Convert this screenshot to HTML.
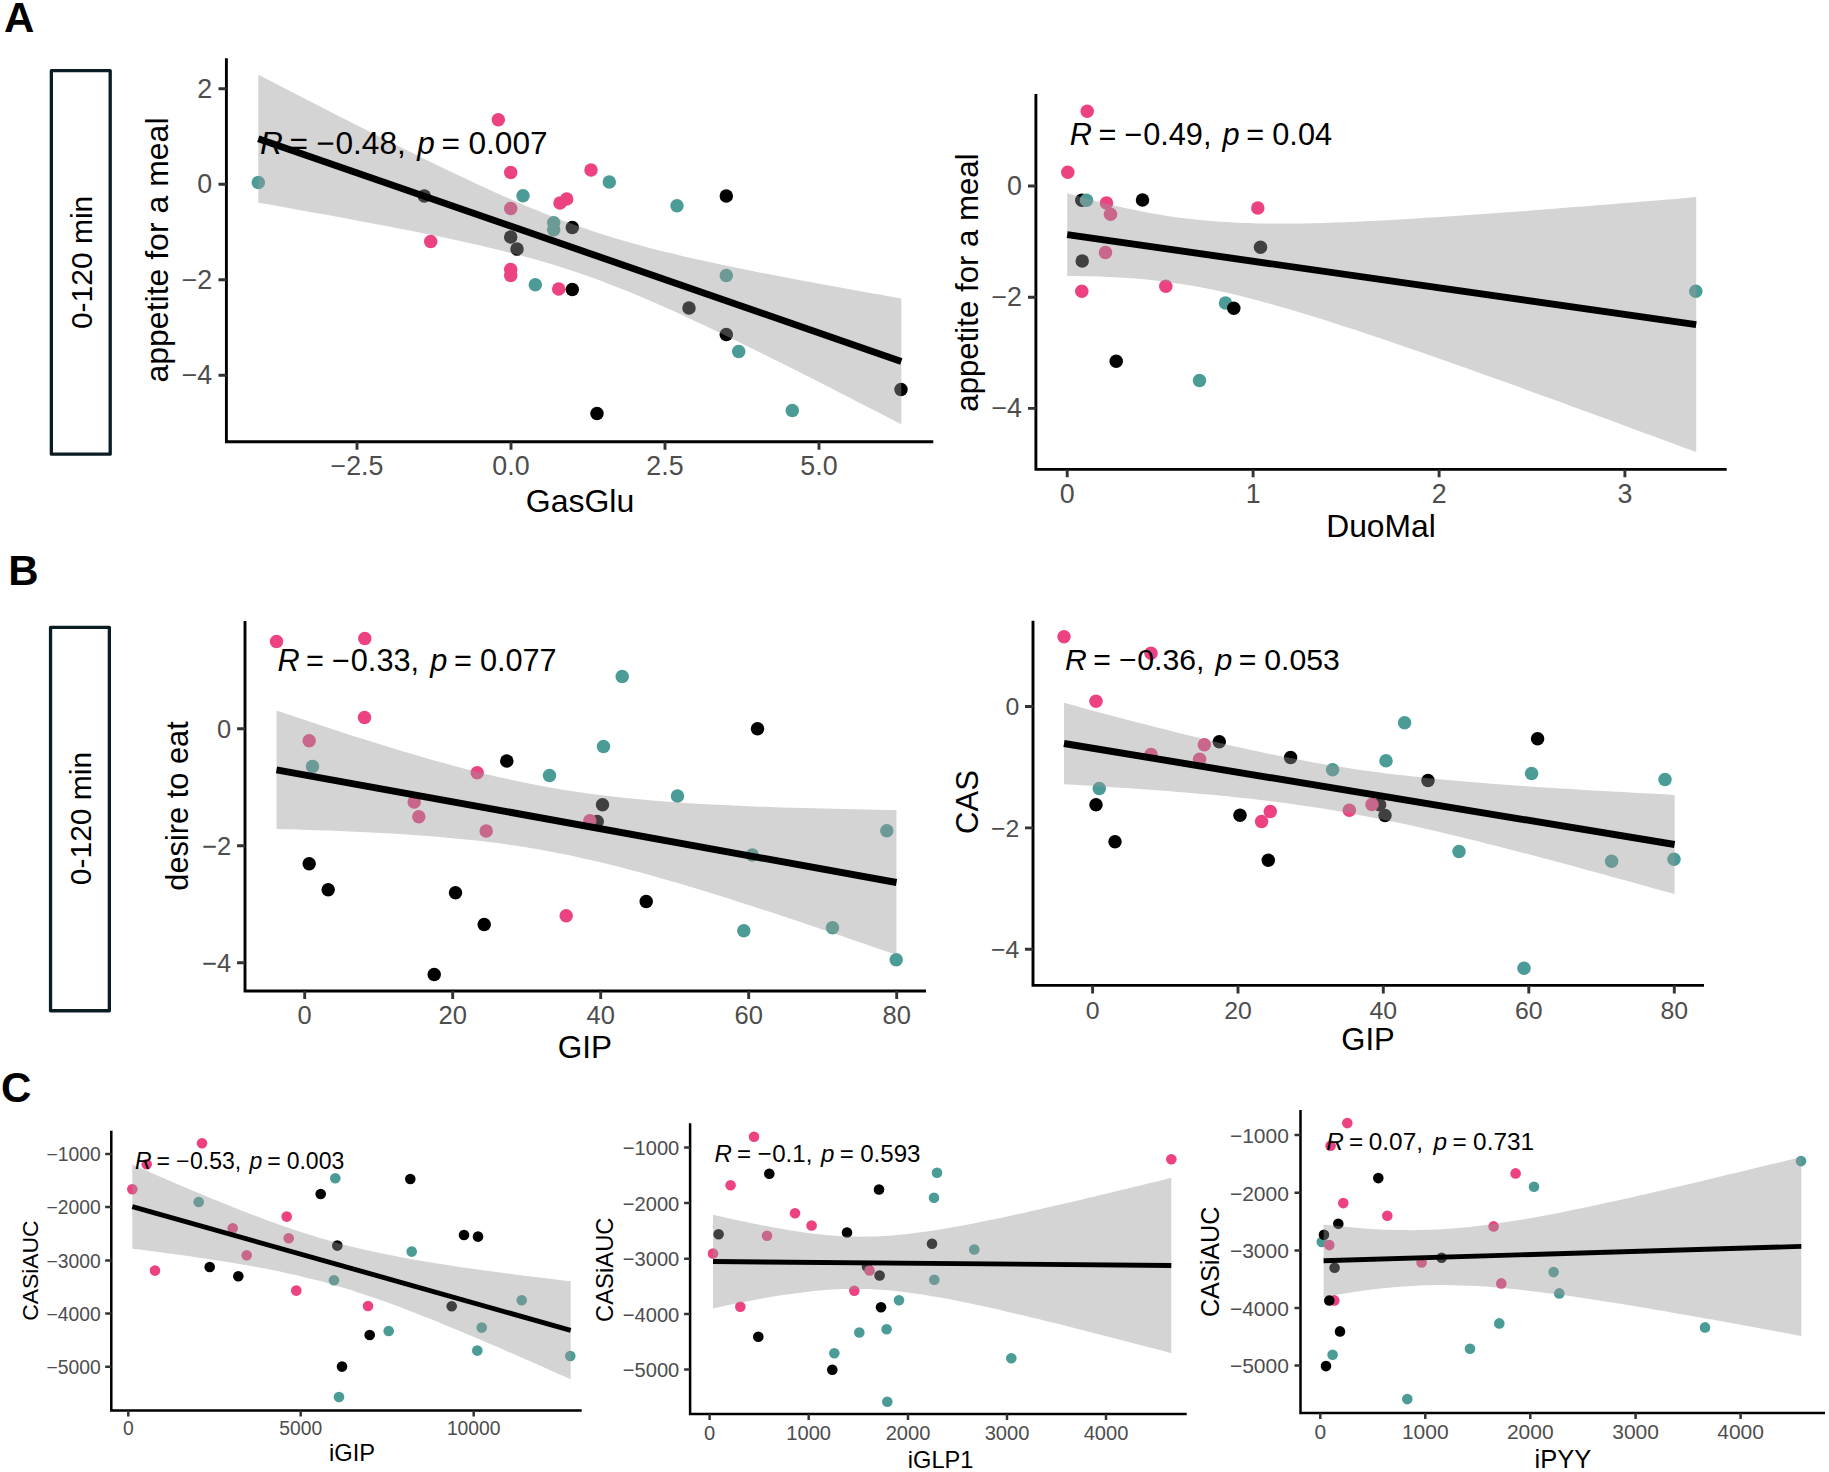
<!DOCTYPE html>
<html lang="en">
<head>
<meta charset="utf-8">
<title>Figure</title>
<style>
html,body{margin:0;padding:0;background:#fff;}
body{width:1829px;height:1472px;overflow:hidden;font-family:"Liberation Sans", sans-serif;}
svg{display:block;}
</style>
</head>
<body>
<svg width="1829" height="1472" viewBox="0 0 1829 1472" font-family='"Liberation Sans", sans-serif'>
<rect width="1829" height="1472" fill="#fff"/>
<g>
<circle cx="258.3" cy="182.4" r="6.75" fill="#4B9C96"/>
<circle cx="424.3" cy="196.1" r="6.75" fill="#000000"/>
<circle cx="498.3" cy="119.7" r="6.75" fill="#EC4282"/>
<circle cx="510.7" cy="172.4" r="6.75" fill="#EC4282"/>
<circle cx="591.0" cy="170.1" r="6.75" fill="#EC4282"/>
<circle cx="609.3" cy="182.1" r="6.75" fill="#4B9C96"/>
<circle cx="523.0" cy="195.7" r="6.75" fill="#4B9C96"/>
<circle cx="560.0" cy="203.1" r="6.75" fill="#EC4282"/>
<circle cx="566.7" cy="199.1" r="6.75" fill="#EC4282"/>
<circle cx="510.7" cy="208.4" r="6.75" fill="#EC4282"/>
<circle cx="553.7" cy="222.7" r="6.75" fill="#4B9C96"/>
<circle cx="553.7" cy="229.7" r="6.75" fill="#4B9C96"/>
<circle cx="572.3" cy="227.4" r="6.75" fill="#000000"/>
<circle cx="510.7" cy="237.1" r="6.75" fill="#000000"/>
<circle cx="517.0" cy="249.1" r="6.75" fill="#000000"/>
<circle cx="430.7" cy="241.4" r="6.75" fill="#EC4282"/>
<circle cx="510.7" cy="269.4" r="6.75" fill="#EC4282"/>
<circle cx="510.7" cy="275.4" r="6.75" fill="#EC4282"/>
<circle cx="535.3" cy="284.7" r="6.75" fill="#4B9C96"/>
<circle cx="558.7" cy="289.1" r="6.75" fill="#EC4282"/>
<circle cx="572.3" cy="289.4" r="6.75" fill="#000000"/>
<circle cx="677.0" cy="205.7" r="6.75" fill="#4B9C96"/>
<circle cx="726.3" cy="196.1" r="6.75" fill="#000000"/>
<circle cx="726.3" cy="275.4" r="6.75" fill="#4B9C96"/>
<circle cx="689.0" cy="308.1" r="6.75" fill="#000000"/>
<circle cx="726.3" cy="334.4" r="6.75" fill="#000000"/>
<circle cx="738.7" cy="351.4" r="6.75" fill="#4B9C96"/>
<circle cx="597.0" cy="413.4" r="6.75" fill="#000000"/>
<circle cx="792.3" cy="410.4" r="6.75" fill="#4B9C96"/>
<circle cx="901.0" cy="389.4" r="6.75" fill="#000000"/>
</g>
<path d="M258.3,74.7 L269.2,80.3 L280.1,86.0 L291.0,91.6 L301.9,97.2 L312.8,102.8 L323.7,108.3 L334.6,113.9 L345.5,119.5 L356.4,125.0 L367.3,130.5 L378.2,136.0 L389.1,141.4 L400.0,146.9 L410.9,152.3 L421.8,157.7 L432.7,163.0 L443.6,168.3 L454.5,173.5 L465.4,178.6 L476.3,183.7 L487.2,188.8 L498.1,193.7 L509.0,198.5 L519.9,203.3 L530.8,207.9 L541.7,212.3 L552.6,216.7 L563.5,220.8 L574.4,224.8 L585.2,228.6 L596.1,232.3 L607.0,235.8 L617.9,239.1 L628.8,242.3 L639.7,245.3 L650.6,248.2 L661.5,251.0 L672.4,253.6 L683.3,256.2 L694.2,258.7 L705.1,261.1 L716.0,263.5 L726.9,265.8 L737.8,268.0 L748.7,270.2 L759.6,272.4 L770.5,274.5 L781.4,276.6 L792.3,278.7 L803.2,280.8 L814.1,282.8 L825.0,284.8 L835.9,286.8 L846.8,288.8 L857.7,290.7 L868.6,292.7 L879.5,294.6 L890.4,296.6 L901.3,298.5 L901.3,424.3 L890.4,418.7 L879.5,413.1 L868.6,407.5 L857.7,401.9 L846.8,396.3 L835.9,390.7 L825.0,385.1 L814.1,379.6 L803.2,374.1 L792.3,368.6 L781.4,363.1 L770.5,357.7 L759.6,352.3 L748.7,346.9 L737.8,341.5 L726.9,336.2 L716.0,331.0 L705.1,325.8 L694.2,320.7 L683.3,315.6 L672.4,310.6 L661.5,305.8 L650.6,301.0 L639.7,296.3 L628.8,291.8 L617.9,287.4 L607.0,283.2 L596.1,279.1 L585.2,275.2 L574.4,271.5 L563.5,268.0 L552.6,264.6 L541.7,261.3 L530.8,258.3 L519.9,255.3 L509.0,252.5 L498.1,249.8 L487.2,247.2 L476.3,244.6 L465.4,242.2 L454.5,239.8 L443.6,237.5 L432.7,235.2 L421.8,233.0 L410.9,230.8 L400.0,228.7 L389.1,226.5 L378.2,224.5 L367.3,222.4 L356.4,220.4 L345.5,218.3 L334.6,216.3 L323.7,214.3 L312.8,212.4 L301.9,210.4 L291.0,208.5 L280.1,206.5 L269.2,204.6 L258.3,202.7Z" fill="#999999" fill-opacity="0.42"/>
<line x1="258.3" y1="138.7" x2="901.3" y2="361.4" stroke="#000" stroke-width="6.9"/>
<path d="M226.4,58.3 V441.8 H933.3" fill="none" stroke="#000" stroke-width="2.9" stroke-linejoin="miter"/>
<path d="M218.5,88.8H226.4M218.5,184.3H226.4M218.5,279.8H226.4M218.5,375.3H226.4M357.0,441.8V449.8M511.0,441.8V449.8M665.0,441.8V449.8M819.0,441.8V449.8" stroke="#333" stroke-width="2.9" fill="none"/>
<g font-size="26.8" fill="#4D4D4D">
<text x="212.2" y="97.5" text-anchor="end">2</text>
<text x="212.2" y="193.0" text-anchor="end">0</text>
<text x="212.2" y="288.5" text-anchor="end">−2</text>
<text x="212.2" y="384.0" text-anchor="end">−4</text>
<text x="357.0" y="475.0" text-anchor="middle">−2.5</text>
<text x="511.0" y="475.0" text-anchor="middle">0.0</text>
<text x="665.0" y="475.0" text-anchor="middle">2.5</text>
<text x="819.0" y="475.0" text-anchor="middle">5.0</text>
</g>
<text x="580.0" y="512.2" font-size="32" text-anchor="middle">GasGlu</text>
<text x="167.8" y="250.0" font-size="32" text-anchor="middle" transform="rotate(-90 167.8 250.0)">appetite for a meal</text>
<g font-size="31.6">
<text x="260.0" y="154.0" font-style="italic">R</text>
<text x="289.5" y="154.0">=</text>
<text x="316.2" y="154.0">−</text>
<text x="335.5" y="154.0">0.48,</text>
<text x="417.3" y="154.0" font-style="italic">p</text>
<text x="441.6" y="154.0">=</text>
<text x="468.5" y="154.0">0.007</text>
</g>
<g>
<circle cx="1087.2" cy="111.3" r="6.75" fill="#EC4282"/>
<circle cx="1067.8" cy="172.3" r="6.75" fill="#EC4282"/>
<circle cx="1081.8" cy="200.3" r="6.75" fill="#000000"/>
<circle cx="1086.5" cy="200.3" r="6.75" fill="#4B9C96"/>
<circle cx="1106.5" cy="203.0" r="6.75" fill="#EC4282"/>
<circle cx="1110.5" cy="214.3" r="6.75" fill="#EC4282"/>
<circle cx="1142.5" cy="200.0" r="6.75" fill="#000000"/>
<circle cx="1257.8" cy="208.0" r="6.75" fill="#EC4282"/>
<circle cx="1260.5" cy="247.3" r="6.75" fill="#000000"/>
<circle cx="1105.5" cy="252.6" r="6.75" fill="#EC4282"/>
<circle cx="1082.2" cy="261.0" r="6.75" fill="#000000"/>
<circle cx="1081.8" cy="291.3" r="6.75" fill="#EC4282"/>
<circle cx="1165.8" cy="286.3" r="6.75" fill="#EC4282"/>
<circle cx="1225.5" cy="303.0" r="6.75" fill="#4B9C96"/>
<circle cx="1233.8" cy="308.3" r="6.75" fill="#000000"/>
<circle cx="1116.2" cy="361.3" r="6.75" fill="#000000"/>
<circle cx="1199.5" cy="380.6" r="6.75" fill="#4B9C96"/>
<circle cx="1695.8" cy="291.3" r="6.75" fill="#4B9C96"/>
</g>
<path d="M1067.2,193.2 L1077.9,196.2 L1088.5,199.1 L1099.2,201.9 L1109.8,204.5 L1120.5,207.0 L1131.2,209.3 L1141.8,211.5 L1152.5,213.4 L1163.1,215.2 L1173.8,216.9 L1184.5,218.3 L1195.1,219.5 L1205.8,220.5 L1216.5,221.4 L1227.1,222.1 L1237.8,222.7 L1248.4,223.1 L1259.1,223.4 L1269.8,223.5 L1280.4,223.6 L1291.1,223.5 L1301.7,223.4 L1312.4,223.2 L1323.1,222.9 L1333.7,222.6 L1344.4,222.2 L1355.0,221.7 L1365.7,221.2 L1376.4,220.7 L1387.0,220.2 L1397.7,219.6 L1408.4,219.0 L1419.0,218.3 L1429.7,217.6 L1440.3,217.0 L1451.0,216.2 L1461.7,215.5 L1472.3,214.8 L1483.0,214.0 L1493.6,213.3 L1504.3,212.5 L1515.0,211.7 L1525.6,210.9 L1536.3,210.1 L1546.9,209.3 L1557.6,208.4 L1568.3,207.6 L1578.9,206.7 L1589.6,205.9 L1600.3,205.0 L1610.9,204.2 L1621.6,203.3 L1632.2,202.4 L1642.9,201.6 L1653.6,200.7 L1664.2,199.8 L1674.9,198.9 L1685.5,198.0 L1696.2,197.1 L1696.2,452.1 L1685.5,448.2 L1674.9,444.2 L1664.2,440.3 L1653.6,436.3 L1642.9,432.4 L1632.2,428.5 L1621.6,424.5 L1610.9,420.6 L1600.3,416.7 L1589.6,412.8 L1578.9,408.9 L1568.3,405.0 L1557.6,401.1 L1546.9,397.2 L1536.3,393.4 L1525.6,389.5 L1515.0,385.6 L1504.3,381.8 L1493.6,378.0 L1483.0,374.2 L1472.3,370.3 L1461.7,366.6 L1451.0,362.8 L1440.3,359.0 L1429.7,355.3 L1419.0,351.6 L1408.4,347.9 L1397.7,344.2 L1387.0,340.6 L1376.4,337.0 L1365.7,333.4 L1355.0,329.8 L1344.4,326.4 L1333.7,322.9 L1323.1,319.5 L1312.4,316.2 L1301.7,312.9 L1291.1,309.8 L1280.4,306.7 L1269.8,303.7 L1259.1,300.8 L1248.4,298.0 L1237.8,295.3 L1227.1,292.8 L1216.5,290.5 L1205.8,288.3 L1195.1,286.3 L1184.5,284.5 L1173.8,282.9 L1163.1,281.4 L1152.5,280.2 L1141.8,279.1 L1131.2,278.2 L1120.5,277.5 L1109.8,276.9 L1099.2,276.5 L1088.5,276.2 L1077.9,276.0 L1067.2,276.0Z" fill="#999999" fill-opacity="0.42"/>
<line x1="1067.2" y1="234.6" x2="1696.2" y2="324.6" stroke="#000" stroke-width="6.9"/>
<path d="M1035.9,94.0 V469.4 H1726.7" fill="none" stroke="#000" stroke-width="2.9" stroke-linejoin="miter"/>
<path d="M1028.0,186.0H1035.9M1028.0,297.2H1035.9M1028.0,408.4H1035.9M1067.2,469.4V477.3M1253.1,469.4V477.3M1439.1,469.4V477.3M1624.9,469.4V477.3" stroke="#333" stroke-width="2.9" fill="none"/>
<g font-size="26.8" fill="#4D4D4D">
<text x="1022.0" y="194.8" text-anchor="end">0</text>
<text x="1022.0" y="306.0" text-anchor="end">−2</text>
<text x="1022.0" y="417.2" text-anchor="end">−4</text>
<text x="1067.2" y="502.7" text-anchor="middle">0</text>
<text x="1253.1" y="502.7" text-anchor="middle">1</text>
<text x="1439.1" y="502.7" text-anchor="middle">2</text>
<text x="1624.9" y="502.7" text-anchor="middle">3</text>
</g>
<text x="1381.0" y="537.0" font-size="31.8" text-anchor="middle">DuoMal</text>
<text x="978.3" y="282.5" font-size="31.2" text-anchor="middle" transform="rotate(-90 978.3 282.5)">appetite for a meal</text>
<g font-size="30.7">
<text x="1069.8" y="145.0" font-style="italic">R</text>
<text x="1098.5" y="145.0">=</text>
<text x="1124.4" y="145.0">−</text>
<text x="1143.2" y="145.0">0.49,</text>
<text x="1222.6" y="145.0" font-style="italic">p</text>
<text x="1246.3" y="145.0">=</text>
<text x="1272.3" y="145.0">0.04</text>
</g>
<g>
<circle cx="276.5" cy="641.5" r="6.75" fill="#EC4282"/>
<circle cx="364.8" cy="638.5" r="6.75" fill="#EC4282"/>
<circle cx="364.5" cy="717.5" r="6.75" fill="#EC4282"/>
<circle cx="309.2" cy="740.8" r="6.75" fill="#EC4282"/>
<circle cx="312.5" cy="766.5" r="6.75" fill="#4B9C96"/>
<circle cx="622.2" cy="676.5" r="6.75" fill="#4B9C96"/>
<circle cx="603.5" cy="746.5" r="6.75" fill="#4B9C96"/>
<circle cx="506.8" cy="761.1" r="6.75" fill="#000000"/>
<circle cx="477.2" cy="772.8" r="6.75" fill="#EC4282"/>
<circle cx="549.5" cy="775.5" r="6.75" fill="#4B9C96"/>
<circle cx="677.5" cy="796.1" r="6.75" fill="#4B9C96"/>
<circle cx="602.5" cy="804.8" r="6.75" fill="#000000"/>
<circle cx="414.2" cy="802.1" r="6.75" fill="#EC4282"/>
<circle cx="418.8" cy="816.8" r="6.75" fill="#EC4282"/>
<circle cx="486.2" cy="831.1" r="6.75" fill="#EC4282"/>
<circle cx="597.2" cy="821.5" r="6.75" fill="#000000"/>
<circle cx="589.8" cy="820.8" r="6.75" fill="#EC4282"/>
<circle cx="309.2" cy="863.8" r="6.75" fill="#000000"/>
<circle cx="328.2" cy="889.8" r="6.75" fill="#000000"/>
<circle cx="455.5" cy="892.8" r="6.75" fill="#000000"/>
<circle cx="484.2" cy="924.5" r="6.75" fill="#000000"/>
<circle cx="566.2" cy="915.8" r="6.75" fill="#EC4282"/>
<circle cx="646.2" cy="901.5" r="6.75" fill="#000000"/>
<circle cx="434.2" cy="974.5" r="6.75" fill="#000000"/>
<circle cx="743.8" cy="930.8" r="6.75" fill="#4B9C96"/>
<circle cx="757.5" cy="728.8" r="6.75" fill="#000000"/>
<circle cx="752.2" cy="855.1" r="6.75" fill="#4B9C96"/>
<circle cx="886.8" cy="830.8" r="6.75" fill="#4B9C96"/>
<circle cx="832.5" cy="927.8" r="6.75" fill="#4B9C96"/>
<circle cx="896.2" cy="959.8" r="6.75" fill="#4B9C96"/>
</g>
<path d="M276.5,710.6 L287.0,714.1 L297.5,717.6 L308.0,721.1 L318.5,724.6 L329.0,728.1 L339.6,731.5 L350.1,734.9 L360.6,738.2 L371.1,741.5 L381.6,744.8 L392.1,748.0 L402.6,751.2 L413.1,754.3 L423.6,757.4 L434.1,760.4 L444.6,763.3 L455.1,766.2 L465.7,768.9 L476.2,771.6 L486.7,774.2 L497.2,776.7 L507.7,779.1 L518.2,781.3 L528.7,783.5 L539.2,785.5 L549.7,787.5 L560.2,789.3 L570.7,790.9 L581.2,792.5 L591.8,794.0 L602.3,795.3 L612.8,796.6 L623.3,797.7 L633.8,798.8 L644.3,799.8 L654.8,800.7 L665.3,801.5 L675.8,802.3 L686.3,803.0 L696.8,803.7 L707.3,804.3 L717.9,804.8 L728.4,805.3 L738.9,805.8 L749.4,806.3 L759.9,806.7 L770.4,807.1 L780.9,807.4 L791.4,807.7 L801.9,808.0 L812.4,808.3 L822.9,808.6 L833.4,808.8 L844.0,809.1 L854.5,809.3 L865.0,809.5 L875.5,809.7 L886.0,809.9 L896.5,810.0 L896.5,955.0 L886.0,951.3 L875.5,947.7 L865.0,944.0 L854.5,940.4 L844.0,936.8 L833.4,933.2 L822.9,929.7 L812.4,926.1 L801.9,922.6 L791.4,919.1 L780.9,915.6 L770.4,912.1 L759.9,908.7 L749.4,905.3 L738.9,901.9 L728.4,898.5 L717.9,895.2 L707.3,892.0 L696.8,888.7 L686.3,885.6 L675.8,882.5 L665.3,879.4 L654.8,876.4 L644.3,873.5 L633.8,870.7 L623.3,867.9 L612.8,865.3 L602.3,862.7 L591.8,860.2 L581.2,857.9 L570.7,855.6 L560.2,853.5 L549.7,851.5 L539.2,849.6 L528.7,847.8 L518.2,846.1 L507.7,844.6 L497.2,843.1 L486.7,841.8 L476.2,840.6 L465.7,839.4 L455.1,838.4 L444.6,837.4 L434.1,836.5 L423.6,835.7 L413.1,834.9 L402.6,834.2 L392.1,833.6 L381.6,833.0 L371.1,832.5 L360.6,832.0 L350.1,831.5 L339.6,831.0 L329.0,830.6 L318.5,830.3 L308.0,829.9 L297.5,829.6 L287.0,829.3 L276.5,829.0Z" fill="#999999" fill-opacity="0.42"/>
<line x1="276.5" y1="769.8" x2="896.5" y2="882.5" stroke="#000" stroke-width="6.9"/>
<path d="M245.0,621.0 V991.0 H926.0" fill="none" stroke="#000" stroke-width="2.9" stroke-linejoin="miter"/>
<path d="M237.1,728.8H245.0M237.1,845.8H245.0M237.1,962.8H245.0M304.7,991.0V999.0M452.7,991.0V999.0M600.7,991.0V999.0M748.7,991.0V999.0M896.7,991.0V999.0" stroke="#333" stroke-width="2.9" fill="none"/>
<g font-size="25.5" fill="#4D4D4D">
<text x="231.3" y="737.6" text-anchor="end">0</text>
<text x="231.3" y="854.6" text-anchor="end">−2</text>
<text x="231.3" y="971.6" text-anchor="end">−4</text>
<text x="304.7" y="1024.2" text-anchor="middle">0</text>
<text x="452.7" y="1024.2" text-anchor="middle">20</text>
<text x="600.7" y="1024.2" text-anchor="middle">40</text>
<text x="748.7" y="1024.2" text-anchor="middle">60</text>
<text x="896.7" y="1024.2" text-anchor="middle">80</text>
</g>
<text x="585.0" y="1058.0" font-size="31.5" text-anchor="middle">GIP</text>
<text x="188.0" y="806.0" font-size="30.8" text-anchor="middle" transform="rotate(-90 188.0 806.0)">desire to eat</text>
<g font-size="30.7">
<text x="277.4" y="671.0" font-style="italic">R</text>
<text x="306.1" y="671.0">=</text>
<text x="332.0" y="671.0">−</text>
<text x="350.8" y="671.0">0.33,</text>
<text x="430.2" y="671.0" font-style="italic">p</text>
<text x="453.9" y="671.0">=</text>
<text x="479.9" y="671.0">0.077</text>
</g>
<g>
<circle cx="1064.0" cy="636.8" r="6.75" fill="#EC4282"/>
<circle cx="1151.0" cy="653.2" r="6.75" fill="#EC4282"/>
<circle cx="1096.0" cy="701.2" r="6.75" fill="#EC4282"/>
<circle cx="1099.3" cy="788.5" r="6.75" fill="#4B9C96"/>
<circle cx="1096.0" cy="804.8" r="6.75" fill="#000000"/>
<circle cx="1115.0" cy="841.8" r="6.75" fill="#000000"/>
<circle cx="1151.0" cy="754.5" r="6.75" fill="#EC4282"/>
<circle cx="1204.3" cy="744.8" r="6.75" fill="#EC4282"/>
<circle cx="1199.6" cy="759.2" r="6.75" fill="#EC4282"/>
<circle cx="1219.3" cy="741.8" r="6.75" fill="#000000"/>
<circle cx="1290.6" cy="757.5" r="6.75" fill="#000000"/>
<circle cx="1332.6" cy="769.8" r="6.75" fill="#4B9C96"/>
<circle cx="1386.0" cy="760.8" r="6.75" fill="#4B9C96"/>
<circle cx="1404.6" cy="722.8" r="6.75" fill="#4B9C96"/>
<circle cx="1428.0" cy="780.5" r="6.75" fill="#000000"/>
<circle cx="1537.6" cy="738.8" r="6.75" fill="#000000"/>
<circle cx="1531.6" cy="773.5" r="6.75" fill="#4B9C96"/>
<circle cx="1240.0" cy="815.2" r="6.75" fill="#000000"/>
<circle cx="1270.3" cy="811.5" r="6.75" fill="#EC4282"/>
<circle cx="1261.6" cy="821.5" r="6.75" fill="#EC4282"/>
<circle cx="1268.3" cy="860.2" r="6.75" fill="#000000"/>
<circle cx="1349.3" cy="810.2" r="6.75" fill="#EC4282"/>
<circle cx="1379.6" cy="804.8" r="6.75" fill="#000000"/>
<circle cx="1372.0" cy="804.5" r="6.75" fill="#EC4282"/>
<circle cx="1385.0" cy="815.5" r="6.75" fill="#000000"/>
<circle cx="1459.0" cy="851.5" r="6.75" fill="#4B9C96"/>
<circle cx="1524.0" cy="968.2" r="6.75" fill="#4B9C96"/>
<circle cx="1665.0" cy="779.5" r="6.75" fill="#4B9C96"/>
<circle cx="1611.6" cy="861.2" r="6.75" fill="#4B9C96"/>
<circle cx="1674.0" cy="859.2" r="6.75" fill="#4B9C96"/>
</g>
<path d="M1064.0,702.8 L1074.3,705.6 L1084.7,708.4 L1095.0,711.2 L1105.4,714.0 L1115.7,716.7 L1126.1,719.4 L1136.4,722.2 L1146.8,724.8 L1157.1,727.5 L1167.5,730.1 L1177.8,732.7 L1188.2,735.3 L1198.5,737.8 L1208.9,740.3 L1219.2,742.8 L1229.6,745.2 L1239.9,747.5 L1250.3,749.8 L1260.6,752.0 L1271.0,754.2 L1281.3,756.3 L1291.7,758.3 L1302.0,760.3 L1312.4,762.2 L1322.7,764.0 L1333.1,765.7 L1343.4,767.3 L1353.8,768.9 L1364.1,770.4 L1374.5,771.8 L1384.8,773.2 L1395.2,774.4 L1405.5,775.6 L1415.9,776.8 L1426.2,777.9 L1436.6,778.9 L1446.9,779.9 L1457.3,780.8 L1467.6,781.8 L1478.0,782.6 L1488.3,783.4 L1498.7,784.2 L1509.0,785.0 L1519.4,785.8 L1529.7,786.5 L1540.1,787.2 L1550.4,787.8 L1560.8,788.5 L1571.1,789.1 L1581.5,789.8 L1591.8,790.4 L1602.2,791.0 L1612.5,791.6 L1622.9,792.1 L1633.2,792.7 L1643.6,793.2 L1653.9,793.8 L1664.3,794.3 L1674.6,794.9 L1674.6,894.1 L1664.3,891.2 L1653.9,888.4 L1643.6,885.5 L1633.2,882.6 L1622.9,879.7 L1612.5,876.9 L1602.2,874.1 L1591.8,871.2 L1581.5,868.4 L1571.1,865.6 L1560.8,862.8 L1550.4,860.1 L1540.1,857.3 L1529.7,854.6 L1519.4,851.9 L1509.0,849.2 L1498.7,846.6 L1488.3,843.9 L1478.0,841.3 L1467.6,838.8 L1457.3,836.3 L1446.9,833.8 L1436.6,831.3 L1426.2,829.0 L1415.9,826.6 L1405.5,824.3 L1395.2,822.1 L1384.8,820.0 L1374.5,817.9 L1364.1,815.9 L1353.8,814.0 L1343.4,812.1 L1333.1,810.3 L1322.7,808.6 L1312.4,807.0 L1302.0,805.4 L1291.7,804.0 L1281.3,802.6 L1271.0,801.3 L1260.6,800.0 L1250.3,798.8 L1239.9,797.7 L1229.6,796.6 L1219.2,795.6 L1208.9,794.6 L1198.5,793.7 L1188.2,792.8 L1177.8,791.9 L1167.5,791.1 L1157.1,790.3 L1146.8,789.6 L1136.4,788.8 L1126.1,788.1 L1115.7,787.4 L1105.4,786.7 L1095.0,786.1 L1084.7,785.5 L1074.3,784.8 L1064.0,784.2Z" fill="#999999" fill-opacity="0.42"/>
<line x1="1064.0" y1="743.5" x2="1674.6" y2="844.5" stroke="#000" stroke-width="6.9"/>
<path d="M1033.0,620.7 V985.4 H1704.0" fill="none" stroke="#000" stroke-width="2.9" stroke-linejoin="miter"/>
<path d="M1025.0,706.5H1033.0M1025.0,827.9H1033.0M1025.0,949.3H1033.0M1092.6,985.4V993.4M1238.0,985.4V993.4M1383.3,985.4V993.4M1528.8,985.4V993.4M1674.3,985.4V993.4" stroke="#333" stroke-width="2.9" fill="none"/>
<g font-size="24.8" fill="#4D4D4D">
<text x="1019.2" y="715.1" text-anchor="end">0</text>
<text x="1019.2" y="836.5" text-anchor="end">−2</text>
<text x="1019.2" y="957.9" text-anchor="end">−4</text>
<text x="1092.6" y="1018.6" text-anchor="middle">0</text>
<text x="1238.0" y="1018.6" text-anchor="middle">20</text>
<text x="1383.3" y="1018.6" text-anchor="middle">40</text>
<text x="1528.8" y="1018.6" text-anchor="middle">60</text>
<text x="1674.3" y="1018.6" text-anchor="middle">80</text>
</g>
<text x="1368.0" y="1050.0" font-size="31" text-anchor="middle">GIP</text>
<text x="977.6" y="802.0" font-size="31" text-anchor="middle" transform="rotate(-90 977.6 802.0)">CAS</text>
<g font-size="30.2">
<text x="1065.1" y="669.7" font-style="italic">R</text>
<text x="1093.3" y="669.7">=</text>
<text x="1118.9" y="669.7">−</text>
<text x="1137.3" y="669.7">0.36,</text>
<text x="1215.4" y="669.7" font-style="italic">p</text>
<text x="1238.7" y="669.7">=</text>
<text x="1264.3" y="669.7">0.053</text>
</g>
<g>
<circle cx="202.0" cy="1143.3" r="5.3" fill="#EC4282"/>
<circle cx="146.7" cy="1164.3" r="5.3" fill="#EC4282"/>
<circle cx="132.3" cy="1189.3" r="5.3" fill="#EC4282"/>
<circle cx="198.7" cy="1202.0" r="5.3" fill="#4B9C96"/>
<circle cx="155.0" cy="1270.6" r="5.3" fill="#EC4282"/>
<circle cx="232.7" cy="1228.3" r="5.3" fill="#EC4282"/>
<circle cx="246.7" cy="1255.3" r="5.3" fill="#EC4282"/>
<circle cx="209.7" cy="1267.0" r="5.3" fill="#000000"/>
<circle cx="238.3" cy="1276.3" r="5.3" fill="#000000"/>
<circle cx="286.7" cy="1216.6" r="5.3" fill="#EC4282"/>
<circle cx="288.7" cy="1238.3" r="5.3" fill="#EC4282"/>
<circle cx="296.3" cy="1290.6" r="5.3" fill="#EC4282"/>
<circle cx="320.7" cy="1194.0" r="5.3" fill="#000000"/>
<circle cx="335.3" cy="1178.3" r="5.3" fill="#4B9C96"/>
<circle cx="337.3" cy="1245.6" r="5.3" fill="#000000"/>
<circle cx="334.0" cy="1280.3" r="5.3" fill="#4B9C96"/>
<circle cx="410.3" cy="1179.0" r="5.3" fill="#000000"/>
<circle cx="411.7" cy="1251.6" r="5.3" fill="#4B9C96"/>
<circle cx="464.0" cy="1235.0" r="5.3" fill="#000000"/>
<circle cx="478.0" cy="1236.6" r="5.3" fill="#000000"/>
<circle cx="368.0" cy="1306.0" r="5.3" fill="#EC4282"/>
<circle cx="369.7" cy="1335.0" r="5.3" fill="#000000"/>
<circle cx="388.7" cy="1331.0" r="5.3" fill="#4B9C96"/>
<circle cx="342.0" cy="1366.6" r="5.3" fill="#000000"/>
<circle cx="339.0" cy="1397.0" r="5.3" fill="#4B9C96"/>
<circle cx="451.7" cy="1306.3" r="5.3" fill="#000000"/>
<circle cx="521.7" cy="1300.3" r="5.3" fill="#4B9C96"/>
<circle cx="481.7" cy="1327.6" r="5.3" fill="#4B9C96"/>
<circle cx="477.3" cy="1350.6" r="5.3" fill="#4B9C96"/>
<circle cx="570.3" cy="1356.0" r="5.3" fill="#4B9C96"/>
</g>
<path d="M132.3,1164.5 L139.7,1167.8 L147.2,1171.0 L154.6,1174.3 L162.0,1177.5 L169.5,1180.7 L176.9,1183.9 L184.3,1187.0 L191.7,1190.2 L199.2,1193.3 L206.6,1196.4 L214.0,1199.5 L221.5,1202.5 L228.9,1205.5 L236.3,1208.5 L243.8,1211.4 L251.2,1214.3 L258.6,1217.1 L266.0,1219.9 L273.5,1222.6 L280.9,1225.2 L288.3,1227.8 L295.8,1230.3 L303.2,1232.8 L310.6,1235.1 L318.1,1237.4 L325.5,1239.6 L332.9,1241.7 L340.4,1243.7 L347.8,1245.7 L355.2,1247.5 L362.6,1249.3 L370.1,1251.0 L377.5,1252.6 L384.9,1254.1 L392.4,1255.6 L399.8,1257.1 L407.2,1258.4 L414.7,1259.8 L422.1,1261.0 L429.5,1262.3 L437.0,1263.5 L444.4,1264.6 L451.8,1265.8 L459.2,1266.9 L466.7,1268.0 L474.1,1269.0 L481.5,1270.0 L489.0,1271.1 L496.4,1272.1 L503.8,1273.0 L511.3,1274.0 L518.7,1274.9 L526.1,1275.9 L533.5,1276.8 L541.0,1277.7 L548.4,1278.6 L555.8,1279.5 L563.3,1280.4 L570.7,1281.3 L570.7,1379.3 L563.3,1376.0 L555.8,1372.7 L548.4,1369.4 L541.0,1366.1 L533.5,1362.8 L526.1,1359.6 L518.7,1356.3 L511.3,1353.1 L503.8,1349.8 L496.4,1346.6 L489.0,1343.4 L481.5,1340.2 L474.1,1337.1 L466.7,1333.9 L459.2,1330.8 L451.8,1327.7 L444.4,1324.7 L437.0,1321.6 L429.5,1318.6 L422.1,1315.7 L414.7,1312.8 L407.2,1309.9 L399.8,1307.1 L392.4,1304.3 L384.9,1301.6 L377.5,1299.0 L370.1,1296.4 L362.6,1293.9 L355.2,1291.5 L347.8,1289.1 L340.4,1286.9 L332.9,1284.7 L325.5,1282.6 L318.1,1280.6 L310.6,1278.7 L303.2,1276.9 L295.8,1275.1 L288.3,1273.4 L280.9,1271.8 L273.5,1270.3 L266.0,1268.8 L258.6,1267.4 L251.2,1266.0 L243.8,1264.7 L236.3,1263.5 L228.9,1262.2 L221.5,1261.0 L214.0,1259.9 L206.6,1258.7 L199.2,1257.7 L191.7,1256.6 L184.3,1255.5 L176.9,1254.5 L169.5,1253.5 L162.0,1252.5 L154.6,1251.5 L147.2,1250.6 L139.7,1249.6 L132.3,1248.7Z" fill="#999999" fill-opacity="0.42"/>
<line x1="132.3" y1="1206.6" x2="570.7" y2="1330.3" stroke="#000" stroke-width="4.9"/>
<path d="M111.3,1130.7 V1410.4 H581.7" fill="none" stroke="#000" stroke-width="2.5" stroke-linejoin="miter"/>
<path d="M105.2,1154.0H111.3M105.2,1207.1H111.3M105.2,1260.4H111.3M105.2,1313.5H111.3M105.2,1366.7H111.3M128.3,1410.4V1416.5M300.7,1410.4V1416.5M473.7,1410.4V1416.5" stroke="#333" stroke-width="2.5" fill="none"/>
<g font-size="19.3" fill="#4D4D4D">
<text x="100.7" y="1161.2" text-anchor="end">−1000</text>
<text x="100.7" y="1214.3" text-anchor="end">−2000</text>
<text x="100.7" y="1267.6" text-anchor="end">−3000</text>
<text x="100.7" y="1320.7" text-anchor="end">−4000</text>
<text x="100.7" y="1373.9" text-anchor="end">−5000</text>
<text x="128.3" y="1434.5" text-anchor="middle">0</text>
<text x="300.7" y="1434.5" text-anchor="middle">5000</text>
<text x="473.7" y="1434.5" text-anchor="middle">10000</text>
</g>
<text x="352.1" y="1460.6" font-size="23.7" text-anchor="middle">iGIP</text>
<text x="37.6" y="1270.6" font-size="22.9" text-anchor="middle" transform="rotate(-90 37.6 1270.6)">CASiAUC</text>
<g font-size="23.0">
<text x="135.0" y="1168.7" font-style="italic">R</text>
<text x="156.5" y="1168.7">=</text>
<text x="175.9" y="1168.7">−</text>
<text x="190.0" y="1168.7">0.53,</text>
<text x="249.5" y="1168.7" font-style="italic">p</text>
<text x="267.2" y="1168.7">=</text>
<text x="286.7" y="1168.7">0.003</text>
</g>
<g>
<circle cx="754.0" cy="1136.8" r="5.3" fill="#EC4282"/>
<circle cx="1171.3" cy="1159.2" r="5.3" fill="#EC4282"/>
<circle cx="769.3" cy="1173.8" r="5.3" fill="#000000"/>
<circle cx="730.6" cy="1185.2" r="5.3" fill="#EC4282"/>
<circle cx="937.0" cy="1172.8" r="5.3" fill="#4B9C96"/>
<circle cx="879.0" cy="1189.5" r="5.3" fill="#000000"/>
<circle cx="934.0" cy="1197.8" r="5.3" fill="#4B9C96"/>
<circle cx="795.0" cy="1213.2" r="5.3" fill="#EC4282"/>
<circle cx="811.6" cy="1225.5" r="5.3" fill="#EC4282"/>
<circle cx="847.0" cy="1232.5" r="5.3" fill="#000000"/>
<circle cx="718.6" cy="1234.2" r="5.3" fill="#000000"/>
<circle cx="767.0" cy="1235.8" r="5.3" fill="#EC4282"/>
<circle cx="713.0" cy="1253.5" r="5.3" fill="#EC4282"/>
<circle cx="932.0" cy="1243.8" r="5.3" fill="#000000"/>
<circle cx="974.3" cy="1249.5" r="5.3" fill="#4B9C96"/>
<circle cx="867.0" cy="1266.5" r="5.3" fill="#000000"/>
<circle cx="869.6" cy="1270.5" r="5.3" fill="#EC4282"/>
<circle cx="879.6" cy="1275.5" r="5.3" fill="#000000"/>
<circle cx="934.3" cy="1279.8" r="5.3" fill="#4B9C96"/>
<circle cx="854.3" cy="1290.8" r="5.3" fill="#EC4282"/>
<circle cx="740.3" cy="1306.8" r="5.3" fill="#EC4282"/>
<circle cx="881.0" cy="1307.2" r="5.3" fill="#000000"/>
<circle cx="899.0" cy="1300.2" r="5.3" fill="#4B9C96"/>
<circle cx="886.6" cy="1329.2" r="5.3" fill="#4B9C96"/>
<circle cx="859.3" cy="1332.5" r="5.3" fill="#4B9C96"/>
<circle cx="758.3" cy="1336.8" r="5.3" fill="#000000"/>
<circle cx="834.3" cy="1353.2" r="5.3" fill="#4B9C96"/>
<circle cx="832.3" cy="1369.8" r="5.3" fill="#000000"/>
<circle cx="1011.3" cy="1358.2" r="5.3" fill="#4B9C96"/>
<circle cx="887.3" cy="1401.8" r="5.3" fill="#4B9C96"/>
</g>
<path d="M713.0,1214.7 L720.8,1216.5 L728.5,1218.2 L736.3,1219.9 L744.1,1221.6 L751.8,1223.2 L759.6,1224.8 L767.4,1226.3 L775.1,1227.8 L782.9,1229.1 L790.7,1230.4 L798.4,1231.6 L806.2,1232.7 L814.0,1233.7 L821.7,1234.6 L829.5,1235.3 L837.3,1235.9 L845.1,1236.3 L852.8,1236.6 L860.6,1236.7 L868.4,1236.6 L876.1,1236.4 L883.9,1236.0 L891.7,1235.5 L899.4,1234.8 L907.2,1234.0 L915.0,1233.1 L922.7,1232.1 L930.5,1230.9 L938.3,1229.7 L946.0,1228.4 L953.8,1227.1 L961.6,1225.7 L969.3,1224.2 L977.1,1222.7 L984.9,1221.1 L992.6,1219.5 L1000.4,1217.9 L1008.2,1216.3 L1015.9,1214.6 L1023.7,1212.9 L1031.5,1211.1 L1039.2,1209.4 L1047.0,1207.6 L1054.8,1205.8 L1062.6,1204.0 L1070.3,1202.2 L1078.1,1200.4 L1085.9,1198.5 L1093.6,1196.7 L1101.4,1194.8 L1109.2,1193.0 L1116.9,1191.1 L1124.7,1189.2 L1132.5,1187.3 L1140.2,1185.5 L1148.0,1183.6 L1155.8,1181.7 L1163.5,1179.7 L1171.3,1177.8 L1171.3,1353.2 L1163.5,1351.1 L1155.8,1349.1 L1148.0,1347.0 L1140.2,1345.0 L1132.5,1343.0 L1124.7,1341.0 L1116.9,1338.9 L1109.2,1336.9 L1101.4,1334.9 L1093.6,1332.9 L1085.9,1331.0 L1078.1,1329.0 L1070.3,1327.0 L1062.6,1325.1 L1054.8,1323.1 L1047.0,1321.2 L1039.2,1319.3 L1031.5,1317.4 L1023.7,1315.6 L1015.9,1313.7 L1008.2,1311.9 L1000.4,1310.1 L992.6,1308.3 L984.9,1306.6 L977.1,1304.9 L969.3,1303.3 L961.6,1301.7 L953.8,1300.1 L946.0,1298.6 L938.3,1297.2 L930.5,1295.9 L922.7,1294.6 L915.0,1293.4 L907.2,1292.4 L899.4,1291.4 L891.7,1290.6 L883.9,1290.0 L876.1,1289.5 L868.4,1289.1 L860.6,1288.9 L852.8,1288.9 L845.1,1289.0 L837.3,1289.3 L829.5,1289.7 L821.7,1290.3 L814.0,1291.0 L806.2,1291.9 L798.4,1292.9 L790.7,1293.9 L782.9,1295.1 L775.1,1296.3 L767.4,1297.6 L759.6,1299.0 L751.8,1300.5 L744.1,1301.9 L736.3,1303.5 L728.5,1305.1 L720.8,1306.7 L713.0,1308.3Z" fill="#999999" fill-opacity="0.42"/>
<line x1="713.0" y1="1261.5" x2="1171.3" y2="1265.5" stroke="#000" stroke-width="4.9"/>
<path d="M690.1,1123.3 V1414.0 H1186.7" fill="none" stroke="#000" stroke-width="2.5" stroke-linejoin="miter"/>
<path d="M684.1,1147.6H690.1M684.1,1203.1H690.1M684.1,1258.7H690.1M684.1,1314.1H690.1M684.1,1369.6H690.1M709.6,1414.0V1420.0M808.7,1414.0V1420.0M908.0,1414.0V1420.0M1007.0,1414.0V1420.0M1106.0,1414.0V1420.0" stroke="#333" stroke-width="2.5" fill="none"/>
<g font-size="20.1" fill="#4D4D4D">
<text x="679.3" y="1155.1" text-anchor="end">−1000</text>
<text x="679.3" y="1210.6" text-anchor="end">−2000</text>
<text x="679.3" y="1266.2" text-anchor="end">−3000</text>
<text x="679.3" y="1321.6" text-anchor="end">−4000</text>
<text x="679.3" y="1377.1" text-anchor="end">−5000</text>
<text x="709.6" y="1439.8" text-anchor="middle">0</text>
<text x="808.7" y="1439.8" text-anchor="middle">1000</text>
<text x="908.0" y="1439.8" text-anchor="middle">2000</text>
<text x="1007.0" y="1439.8" text-anchor="middle">3000</text>
<text x="1106.0" y="1439.8" text-anchor="middle">4000</text>
</g>
<text x="940.6" y="1467.5" font-size="23.6" text-anchor="middle">iGLP1</text>
<text x="613.3" y="1269.7" font-size="23.8" text-anchor="middle" transform="rotate(-90 613.3 1269.7)">CASiAUC</text>
<g font-size="24.1">
<text x="714.6" y="1162.2" font-style="italic">R</text>
<text x="737.1" y="1162.2">=</text>
<text x="757.5" y="1162.2">−</text>
<text x="772.2" y="1162.2">0.1,</text>
<text x="821.1" y="1162.2" font-style="italic">p</text>
<text x="839.7" y="1162.2">=</text>
<text x="860.2" y="1162.2">0.593</text>
</g>
<g>
<circle cx="1347.3" cy="1123.1" r="5.3" fill="#EC4282"/>
<circle cx="1330.6" cy="1145.7" r="5.3" fill="#EC4282"/>
<circle cx="1378.3" cy="1178.1" r="5.3" fill="#000000"/>
<circle cx="1515.6" cy="1173.4" r="5.3" fill="#EC4282"/>
<circle cx="1534.0" cy="1186.7" r="5.3" fill="#4B9C96"/>
<circle cx="1801.0" cy="1161.1" r="5.3" fill="#4B9C96"/>
<circle cx="1343.3" cy="1203.1" r="5.3" fill="#EC4282"/>
<circle cx="1387.3" cy="1215.7" r="5.3" fill="#EC4282"/>
<circle cx="1338.3" cy="1223.7" r="5.3" fill="#000000"/>
<circle cx="1493.6" cy="1226.4" r="5.3" fill="#EC4282"/>
<circle cx="1321.8" cy="1241.9" r="5.3" fill="#4B9C96"/>
<circle cx="1324.0" cy="1234.7" r="5.3" fill="#000000"/>
<circle cx="1329.3" cy="1245.1" r="5.3" fill="#EC4282"/>
<circle cx="1334.6" cy="1267.7" r="5.3" fill="#000000"/>
<circle cx="1421.6" cy="1262.4" r="5.3" fill="#EC4282"/>
<circle cx="1441.6" cy="1257.7" r="5.3" fill="#000000"/>
<circle cx="1553.6" cy="1272.1" r="5.3" fill="#4B9C96"/>
<circle cx="1501.3" cy="1283.4" r="5.3" fill="#EC4282"/>
<circle cx="1559.3" cy="1293.4" r="5.3" fill="#4B9C96"/>
<circle cx="1334.3" cy="1300.4" r="5.3" fill="#EC4282"/>
<circle cx="1329.3" cy="1300.4" r="5.3" fill="#000000"/>
<circle cx="1340.0" cy="1331.4" r="5.3" fill="#000000"/>
<circle cx="1332.6" cy="1354.7" r="5.3" fill="#4B9C96"/>
<circle cx="1326.0" cy="1366.1" r="5.3" fill="#000000"/>
<circle cx="1499.3" cy="1323.4" r="5.3" fill="#4B9C96"/>
<circle cx="1470.0" cy="1348.7" r="5.3" fill="#4B9C96"/>
<circle cx="1705.0" cy="1327.4" r="5.3" fill="#4B9C96"/>
<circle cx="1407.3" cy="1399.1" r="5.3" fill="#4B9C96"/>
</g>
<path d="M1323.6,1224.5 L1331.7,1225.4 L1339.8,1226.3 L1347.9,1227.0 L1356.0,1227.8 L1364.1,1228.4 L1372.2,1228.9 L1380.3,1229.4 L1388.4,1229.8 L1396.5,1230.0 L1404.6,1230.1 L1412.7,1230.2 L1420.8,1230.1 L1428.9,1229.8 L1437.0,1229.5 L1445.0,1229.0 L1453.1,1228.5 L1461.2,1227.8 L1469.3,1227.0 L1477.4,1226.1 L1485.5,1225.1 L1493.6,1224.0 L1501.7,1222.8 L1509.8,1221.6 L1517.9,1220.2 L1526.0,1218.9 L1534.1,1217.4 L1542.2,1216.0 L1550.3,1214.4 L1558.4,1212.9 L1566.5,1211.2 L1574.6,1209.6 L1582.7,1207.9 L1590.8,1206.2 L1598.9,1204.5 L1607.0,1202.7 L1615.1,1201.0 L1623.2,1199.2 L1631.3,1197.4 L1639.4,1195.5 L1647.5,1193.7 L1655.6,1191.8 L1663.7,1190.0 L1671.8,1188.1 L1679.9,1186.2 L1687.9,1184.3 L1696.0,1182.4 L1704.1,1180.4 L1712.2,1178.5 L1720.3,1176.6 L1728.4,1174.6 L1736.5,1172.7 L1744.6,1170.7 L1752.7,1168.8 L1760.8,1166.8 L1768.9,1164.8 L1777.0,1162.9 L1785.1,1160.9 L1793.2,1158.9 L1801.3,1156.9 L1801.3,1335.9 L1793.2,1334.4 L1785.1,1332.9 L1777.0,1331.4 L1768.9,1329.9 L1760.8,1328.4 L1752.7,1326.9 L1744.6,1325.5 L1736.5,1324.0 L1728.4,1322.5 L1720.3,1321.1 L1712.2,1319.6 L1704.1,1318.2 L1696.0,1316.7 L1687.9,1315.3 L1679.9,1313.9 L1671.8,1312.5 L1663.7,1311.1 L1655.6,1309.7 L1647.5,1308.3 L1639.4,1307.0 L1631.3,1305.6 L1623.2,1304.3 L1615.1,1303.0 L1607.0,1301.7 L1598.9,1300.4 L1590.8,1299.2 L1582.7,1298.0 L1574.6,1296.8 L1566.5,1295.6 L1558.4,1294.5 L1550.3,1293.4 L1542.2,1292.4 L1534.1,1291.4 L1526.0,1290.4 L1517.9,1289.5 L1509.8,1288.7 L1501.7,1287.9 L1493.6,1287.2 L1485.5,1286.6 L1477.4,1286.1 L1469.3,1285.7 L1461.2,1285.4 L1453.1,1285.2 L1445.0,1285.1 L1437.0,1285.1 L1428.9,1285.3 L1420.8,1285.5 L1412.7,1285.9 L1404.6,1286.4 L1396.5,1287.0 L1388.4,1287.8 L1380.3,1288.6 L1372.2,1289.5 L1364.1,1290.6 L1356.0,1291.7 L1347.9,1292.9 L1339.8,1294.2 L1331.7,1295.5 L1323.6,1296.9Z" fill="#999999" fill-opacity="0.42"/>
<line x1="1323.6" y1="1260.7" x2="1801.3" y2="1246.4" stroke="#000" stroke-width="4.9"/>
<path d="M1300.5,1110.0 V1413.0 H1825.0" fill="none" stroke="#000" stroke-width="2.5" stroke-linejoin="miter"/>
<path d="M1294.5,1135.0H1300.5M1294.5,1192.8H1300.5M1294.5,1250.6H1300.5M1294.5,1307.9H1300.5M1294.5,1365.6H1300.5M1320.3,1413.0V1419.0M1425.3,1413.0V1419.0M1530.3,1413.0V1419.0M1635.6,1413.0V1419.0M1740.6,1413.0V1419.0" stroke="#333" stroke-width="2.5" fill="none"/>
<g font-size="21" fill="#4D4D4D">
<text x="1288.9" y="1142.8" text-anchor="end">−1000</text>
<text x="1288.9" y="1200.6" text-anchor="end">−2000</text>
<text x="1288.9" y="1258.4" text-anchor="end">−3000</text>
<text x="1288.9" y="1315.7" text-anchor="end">−4000</text>
<text x="1288.9" y="1373.4" text-anchor="end">−5000</text>
<text x="1320.3" y="1439.3" text-anchor="middle">0</text>
<text x="1425.3" y="1439.3" text-anchor="middle">1000</text>
<text x="1530.3" y="1439.3" text-anchor="middle">2000</text>
<text x="1635.6" y="1439.3" text-anchor="middle">3000</text>
<text x="1740.6" y="1439.3" text-anchor="middle">4000</text>
</g>
<text x="1562.9" y="1467.5" font-size="25.5" text-anchor="middle">iPYY</text>
<text x="1219.5" y="1261.8" font-size="25.2" text-anchor="middle" transform="rotate(-90 1219.5 1261.8)">CASiAUC</text>
<g font-size="24.35">
<text x="1326.2" y="1149.7" font-style="italic">R</text>
<text x="1349.0" y="1149.7">=</text>
<text x="1368.8" y="1149.7">0.07,</text>
<text x="1433.6" y="1149.7" font-style="italic">p</text>
<text x="1452.4" y="1149.7">=</text>
<text x="1473.1" y="1149.7">0.731</text>
</g>
<text x="4.0" y="32.2" font-size="42" font-weight="bold">A</text>
<text x="8.3" y="584.6" font-size="42" font-weight="bold">B</text>
<text x="1.1" y="1102.2" font-size="42" font-weight="bold">C</text>
<rect x="51.35" y="70.65" width="58.85" height="383.5" fill="#fff" stroke="#0A1C24" stroke-width="3.3" stroke-linejoin="round"/>
<rect x="50.55" y="627.35" width="58.8" height="383.4" fill="#fff" stroke="#0A1C24" stroke-width="3.3" stroke-linejoin="round"/>
<text x="91.8" y="262.4" font-size="30" text-anchor="middle" transform="rotate(-90 91.8 262.4)">0-120 min</text>
<text x="90.6" y="818.5" font-size="30" text-anchor="middle" transform="rotate(-90 90.6 818.5)">0-120 min</text>
</svg>
</body>
</html>
